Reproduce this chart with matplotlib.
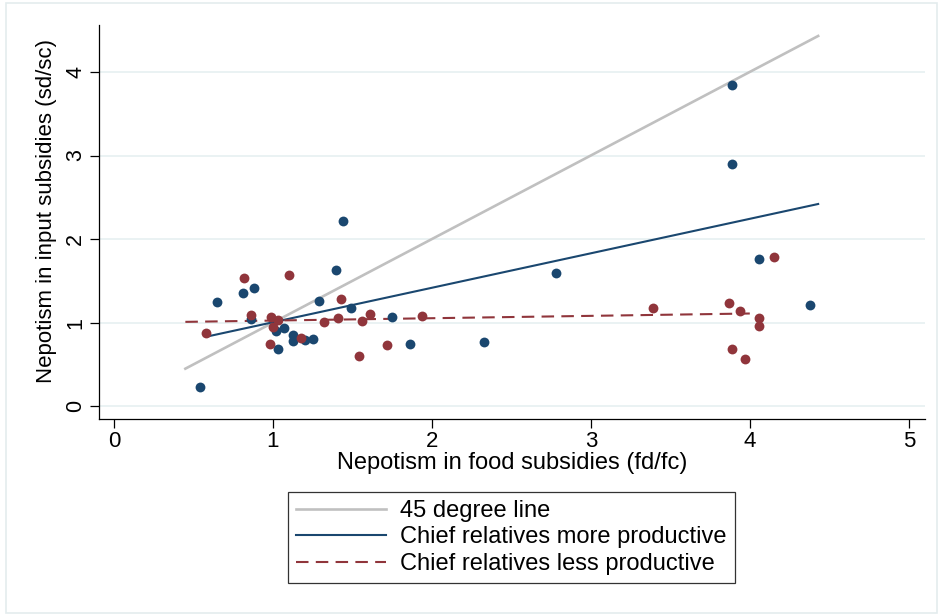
import matplotlib
matplotlib.use("Agg")
import matplotlib.pyplot as plt
from matplotlib.patches import Rectangle

plt.rcParams["font.family"] = ["Liberation Sans", "DejaVu Sans"]

# scatter points (food ratio, input ratio)
more_x = [0.54, 0.65, 0.81, 0.88, 0.86, 1.02, 1.03, 1.07, 1.13, 1.13, 1.20, 1.25,
          1.29, 1.40, 1.44, 1.49, 1.75, 1.86, 2.33, 2.78, 3.89, 3.89, 4.06, 4.38]
more_y = [0.23, 1.25, 1.35, 1.42, 1.04, 0.90, 0.69, 0.94, 0.85, 0.78, 0.79, 0.81,
          1.26, 1.63, 2.22, 1.17, 1.07, 0.75, 0.77, 1.60, 3.84, 2.90, 1.76, 1.21]
less_x = [0.58, 0.82, 0.86, 0.98, 0.99, 1.00, 1.03, 1.10, 1.18, 1.32, 1.41, 1.43,
          1.54, 1.56, 1.61, 1.72, 1.94, 3.39, 3.87, 3.89, 3.94, 3.97, 4.06, 4.06, 4.15]
less_y = [0.88, 1.53, 1.09, 0.75, 1.07, 0.95, 1.03, 1.57, 0.82, 1.01, 1.06, 1.28,
          0.60, 1.02, 1.10, 0.73, 1.08, 1.17, 1.24, 0.69, 1.14, 0.57, 1.06, 0.96, 1.79]

# line endpoints
diag_x = [0.45, 4.43]
diag_y = [0.45, 4.43]
more_fit_x = [0.60, 4.43]
more_fit_y = [0.84, 2.42]
less_fit_x = [0.45, 4.00]
less_fit_y = [1.01, 1.11]

BLUE = "#1a476f"
RED = "#90353b"
GRAY = "#c0c0c0"
GRID = "#eaf2f3"

fig = plt.figure(figsize=(9.39, 6.16), dpi=100)
fig.patches.append(Rectangle((6 / 939, 3 / 616), 931 / 939, 610 / 616,
                             transform=fig.transFigure, fill=False,
                             edgecolor="#e4ecee", linewidth=1.2))

ax = fig.add_axes([0.1058, 0.3198, 0.8793, 0.6396])

l1, = ax.plot(diag_x, diag_y, color=GRAY, linewidth=1.9, zorder=2,
              label="45 degree line")
l2, = ax.plot(more_fit_x, more_fit_y, color=BLUE, linewidth=1.5, zorder=2,
              label="Chief relatives more productive")
l3, = ax.plot(less_fit_x, less_fit_y, color=RED, linewidth=1.5, zorder=2,
              dashes=(6, 3.5), label="Chief relatives less productive")

ax.scatter(more_x, more_y, s=50, color=BLUE, linewidths=0, zorder=3)
ax.scatter(less_x, less_y, s=50, color=RED, linewidths=0, zorder=3)

ax.set_xlim(-0.091, 5.102)
ax.set_ylim(-0.152, 4.561)
ax.set_xticks(range(6))
ax.set_yticks(range(5))
ax.grid(axis="y", color=GRID, linewidth=1.4)
ax.set_axisbelow(True)

for side in ["top", "right"]:
    ax.spines[side].set_visible(False)
for side in ["left", "bottom"]:
    ax.spines[side].set_linewidth(0.9)

ax.tick_params(length=6.5, width=0.9)
ax.tick_params(axis="x", labelsize=16, pad=2)
ax.tick_params(axis="y", labelsize=15.5, labelrotation=90, pad=3)
for t in ax.get_yticklabels():
    t.set_va("center")

ax.set_xlabel("Nepotism in food subsidies (fd/fc)", fontsize=17, labelpad=0)
ax.set_ylabel("Nepotism in input subsidies (sd/sc)", fontsize=16)
ax.yaxis.set_label_coords(-0.051, 0.528)

leg = fig.legend(handles=[l1, l2, l3], loc="center",
                 bbox_to_anchor=(511.5 / 939, 1 - 537.5 / 616),
                 fontsize=17, frameon=True, fancybox=False,
                 handlelength=3.8, handletextpad=0.6, labelspacing=0.2,
                 borderpad=0.35, borderaxespad=0)
leg.get_frame().set_edgecolor("black")
leg.get_frame().set_linewidth(0.9)

fig.savefig("out.png", dpi=100)
